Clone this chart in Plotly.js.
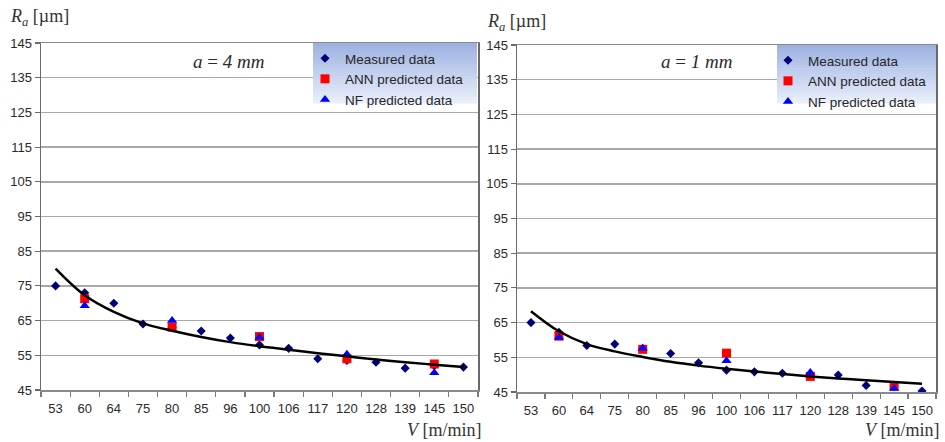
<!DOCTYPE html>
<html>
<head>
<meta charset="utf-8">
<script src="https://cdn.plot.ly/plotly-3.0.1.min.js"></script>
<style>html,body{margin:0;padding:0;background:#fff}#chart{width:945px;height:442px}</style>
</head>
<body>
<div id="chart"></div>
<script>
// ---- data ----
const speeds = ["53","60","64","75","80","85","96","100","106","117","120","128","139","145","150"];

// a = 4 mm
const measured4 = [75, 73, 70, 64, 63, 62, 60, 58, 57, 54, 53.5, 53, 51.3, 52, 51.6];
const annCats = ["60","80","100","120","145"];
const ann4 = [71.3, 63.1, 60.4, 54, 52.5];
const nf4 = [69.3, 65, 60.2, 55.3, 50];
const trend4 = [80, 72.3, 67.5, 64.2, 62.1, 60.3, 58.8, 57.6, 56.6, 55.6, 54.7, 53.8, 53.0, 52.3, 51.6];

// a = 1 mm
const measured1 = [65, 62.2, 58.4, 58.8, 57.5, 56.1, 53.4, 51.3, 50.8, 50.4, 50, 49.9, 46.9, 46.5, 45.3];
const ann1 = [61.1, 57.3, 56.2, 49.5, 46.7];
const nf1 = [60.7, 57.6, 54, 50.6, 46];
const trend1 = [68.3, 62.5, 58.8, 56.7, 55.1, 53.7, 52.6, 51.7, 50.9, 50.2, 49.5, 48.9, 48.4, 47.9, 47.4];

const yTicks = [45, 55, 65, 75, 85, 95, 105, 115, 125, 135, 145];
const seriesNames = ["Measured data", "ANN predicted data", "NF predicted data"];
const panelLabels = ["<i>a</i> = <i>4 mm</i>", "<i>a</i> = <i>1 mm</i>"];

// ---- layout helpers ----
const W = 945, H = 442;
const px = v => v / W;
const py = v => 1 - v / H;

function traces(xa, ya, leg, meas, ann, nf, trend) {
  return [
    {x: speeds, y: meas, xaxis: xa, yaxis: ya, legend: leg, type: "scatter", mode: "markers",
     name: seriesNames[0], marker: {symbol: "diamond", size: 7, color: "#00007a"}},
    {x: annCats, y: ann, xaxis: xa, yaxis: ya, legend: leg, type: "scatter", mode: "markers",
     name: seriesNames[1], marker: {symbol: "square", size: 9, color: "#ff0000"}},
    {x: annCats, y: nf, xaxis: xa, yaxis: ya, legend: leg, type: "scatter", mode: "markers",
     name: seriesNames[2], marker: {symbol: "triangle-up", size: 9, color: "#0000ff"}},
    {x: speeds, y: trend, xaxis: xa, yaxis: ya, type: "scatter", mode: "lines", showlegend: false,
     line: {color: "#000000", width: 2.5, shape: "spline", smoothing: 1}, hoverinfo: "skip"}
  ];
}

const data = [
  ...traces("x", "y", "legend", measured4, ann4, nf4, trend4),
  ...traces("x2", "y2", "legend2", measured1, ann1, nf1, trend1)
];

const tickFont = {family: "Liberation Sans, Arial, sans-serif", size: 13, color: "#2a2a2a"};

function xAxis(d0, d1, anchor) {
  return {
    domain: [px(d0), px(d1)], anchor: anchor, type: "category",
    categoryorder: "array", categoryarray: speeds, range: [-0.5, 14.5],
    tickson: "boundaries", ticks: "outside", ticklen: 5, tickwidth: 1.2, tickcolor: "#7a7a7a",
    tickangle: 0, ticklabelstandoff: 6,
    showline: true, linecolor: "#8a8a8a", linewidth: 1.5, mirror: true,
    showgrid: false, zeroline: false, tickfont: tickFont, fixedrange: true
  };
}
function yAxis(t0, t1, anchor) {
  return {
    domain: [py(t1), py(t0)], anchor: anchor, range: [45, 145],
    tickmode: "array", tickvals: yTicks, ticktext: yTicks.map(String),
    ticks: "outside", ticklen: 5, tickwidth: 1.2, tickcolor: "#6a6a6a",
    showline: true, linecolor: "#6a6a6a", linewidth: 1.5, mirror: true,
    showgrid: true, gridcolor: "#a8a8a8", gridwidth: 1.5, zeroline: false,
    tickfont: tickFont, fixedrange: true
  };
}

// gradient legend boxes as stacked stripes
function gradientBox(x0, x1, y0, y1) {
  const n = 20, shapes = [];
  const top = [158, 178, 226], bot = [232, 238, 250];
  for (let i = 0; i < n; i++) {
    const t = i / (n - 1);
    const c = top.map((v, k) => Math.round(v + (bot[k] - v) * t));
    const ya = y0 + (y1 - y0) * i / n, yb = y0 + (y1 - y0) * (i + 1) / n + 0.6;
    shapes.push({type: "rect", xref: "paper", yref: "paper", layer: "above",
      x0: px(x0), x1: px(x1), y0: py(yb), y1: py(ya),
      line: {width: 0}, fillcolor: `rgb(${c[0]},${c[1]},${c[2]})`});
  }
  return shapes;
}

const serif = "Liberation Serif, Times New Roman, serif";
function ann(text, x, y, xanchor, size, color) {
  return {text: text, xref: "paper", yref: "paper", x: px(x), y: py(y),
    xanchor: xanchor, yanchor: "middle", showarrow: false,
    font: {family: serif, size: size, color: color || "#2a2a2a"}};
}

const legendFont = {family: "Liberation Sans, Arial, sans-serif", size: 13.5, color: "#262626"};

const layout = {
  width: W, height: H,
  margin: {l: 0, r: 0, t: 0, b: 0},
  paper_bgcolor: "#ffffff", plot_bgcolor: "#ffffff",
  showlegend: true,
  xaxis: xAxis(41, 478, "y"),
  yaxis: yAxis(43, 390, "x"),
  xaxis2: xAxis(517, 936, "y2"),
  yaxis2: yAxis(45, 392, "x2"),
  legend: {x: px(305), y: py(43), xanchor: "left", yanchor: "top",
    bgcolor: "rgba(0,0,0,0)", borderwidth: 0, font: legendFont, tracegroupgap: 0},
  legend2: {x: px(768), y: py(45), xanchor: "left", yanchor: "top",
    bgcolor: "rgba(0,0,0,0)", borderwidth: 0, font: legendFont, tracegroupgap: 0},
  shapes: [...gradientBox(313, 477, 43, 103), ...gradientBox(777, 936, 45, 103)],
  annotations: [
    ann(panelLabels[0], 228, 62, "center", 19),
    ann(panelLabels[1], 696, 62, "center", 19),
    ann("<i>R<sub>a</sub></i> [µm]", 8, 18, "left", 18, "#333"),
    ann("<i>R<sub>a</sub></i> [µm]", 485, 22, "left", 18, "#333"),
    ann("<i>V</i> [m/min]", 484, 430, "right", 18, "#333"),
    ann("<i>V</i> [m/min]", 942, 430, "right", 18, "#333")
  ]
};

Plotly.newPlot("chart", data, layout, {staticPlot: true, displayModeBar: false});
</script>
</body>
</html>
